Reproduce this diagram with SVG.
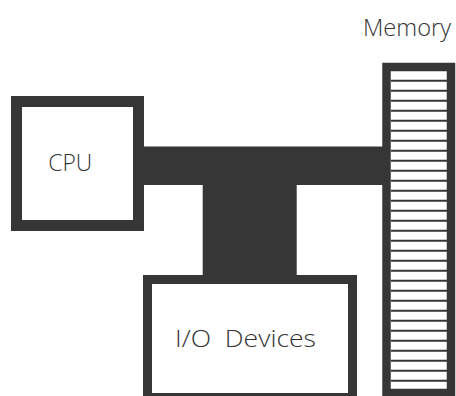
<svg xmlns="http://www.w3.org/2000/svg" width="456" height="396" viewBox="0 0 456 396">
<style>
.box{fill:#ffffff;stroke:#363636;stroke-linejoin:miter}
.bus{fill:#363636;stroke:none}
.lbl{font-family:"Open Sans","Liberation Sans","DejaVu Sans",sans-serif;font-weight:300;font-size:23px;fill:#333333}
.stripe{stroke:#363636;stroke-width:2}
</style>
<rect width="456" height="396" fill="#ffffff"/>
<g id="connectors">
<path class="bus" d="M140,146.5 H386 V185 H296.7 V279 H202.7 V185 H140 Z"/>
</g>
<g id="cpu">
<rect class="box" x="16.5" y="101.5" width="122" height="124" stroke-width="11"/>
<text class="lbl" x="48.3" y="171" textLength="44" lengthAdjust="spacingAndGlyphs">CPU</text>
</g>
<g id="io">
<rect class="box" x="147.5" y="279.5" width="205" height="118" stroke-width="9"/>
<text class="lbl" x="175" y="346.7" textLength="141" lengthAdjust="spacingAndGlyphs" xml:space="preserve">I/O  Devices</text>
</g>
<g id="memory">
<rect class="box" x="386.5" y="67" width="64.5" height="326" stroke-width="8.5"/>
<g class="stripe">
<path d="M391,80.7H447M391,90.7H447M391,100.7H447M391,110.7H447M391,120.7H447M391,130.7H447M391,140.7H447M391,150.7H447M391,160.7H447M391,170.7H447M391,180.7H447M391,190.7H447M391,200.7H447M391,210.7H447M391,220.7H447M391,230.7H447M391,240.7H447M391,250.7H447M391,260.7H447M391,270.7H447M391,280.7H447M391,290.7H447M391,300.7H447M391,310.7H447M391,320.7H447M391,330.7H447M391,340.7H447M391,350.7H447M391,360.7H447M391,370.7H447M391,380.7H447"/>
</g>
<text class="lbl" x="363" y="36" textLength="88" lengthAdjust="spacingAndGlyphs">Memory</text>
</g>
</svg>
